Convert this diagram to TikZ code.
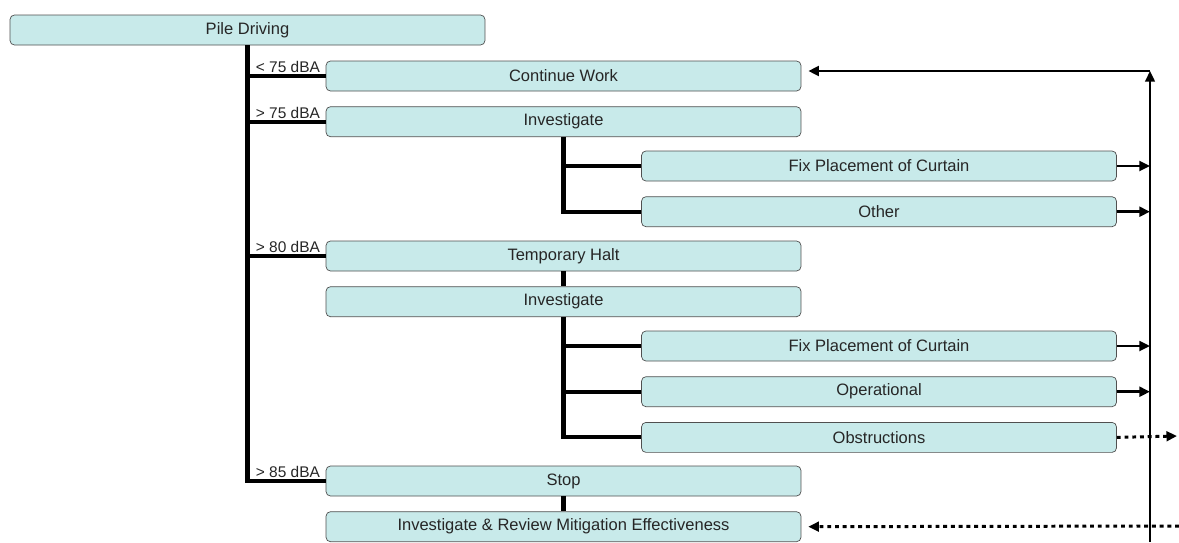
\documentclass[tikz,border=0pt]{standalone}
\usepackage{fontspec}
\setmainfont{Liberation Sans}
\usetikzlibrary{positioning}
\usetikzlibrary{arrows.meta}
\definecolor{boxfill}{HTML}{C8EAEA}
\definecolor{boxline}{HTML}{505050}

\begin{document}
\begin{tikzpicture}[x=0.02cm,y=-0.02cm,node distance=0.3cm,
    stepbox/.style={draw=boxline,fill=boxfill,rounded corners=2.5pt,minimum width=9.5cm,minimum height=0.6cm,inner sep=0pt,font=\fontsize{9.4}{11}\selectfont,text=black!85},
    dbalabel/.style={font=\fontsize{8.8}{10}\selectfont,inner sep=0pt,anchor=south west,text=black!85},
    conn/.style={line width=2.3pt},
    flow/.style={line width=1.5pt,-{Triangle[length=6pt,width=5.5pt]}},
    dotflow/.style={flow,line width=1.7pt,dash pattern=on 2.2pt off 2.2pt}]
  \useasboundingbox (0,0) rectangle (1179,542);

  \node[stepbox] (pile) at (247.5,30) {Pile Driving};

  \node[stepbox] (cont) at (563.5,76) {Continue Work};
  \node[stepbox,below=of cont] (inv1) {Investigate};
  \node[stepbox] (fix1) at (879,166) {Fix Placement of Curtain};
  \node[stepbox,below=of fix1] (other) {Other};

  \node[stepbox] (halt) at (563.5,256) {Temporary Halt};
  \node[stepbox,below=of halt] (inv2) {Investigate};
  \node[stepbox] (fix2) at (879,346) {Fix Placement of Curtain};
  \node[stepbox,below=of fix2] (oper) {Operational};
  \node[stepbox,below=of oper] (obst) {Obstructions};

  \node[stepbox] (stop) at (563.5,481) {Stop};
  \node[stepbox,below=of stop] (review) {Investigate \& Review Mitigation Effectiveness};

  \draw[conn] (pile.south) |- (stop.west);
  \draw[conn] (pile.south |- cont.west) -- (cont.west);
  \draw[conn] (pile.south |- inv1.west) -- (inv1.west);
  \draw[conn] (pile.south |- halt.west) -- (halt.west);

  \node[dbalabel,xshift=0.16cm,yshift=0.06cm] at (pile.south |- cont.west) {< 75 dBA};
  \node[dbalabel,xshift=0.16cm,yshift=0.06cm] at (pile.south |- inv1.west) {> 75 dBA};
  \node[dbalabel,xshift=0.16cm,yshift=0.06cm] at (pile.south |- halt.west) {> 80 dBA};
  \node[dbalabel,xshift=0.16cm,yshift=0.06cm] at (pile.south |- stop.west) {> 85 dBA};

  \draw[conn] (inv1.south) |- (other.west);
  \draw[conn] (inv1.south |- fix1.west) -- (fix1.west);

  \draw[conn] (halt.south) -- (inv2.north);
  \draw[conn] (inv2.south) |- (obst.west);
  \draw[conn] (inv2.south |- fix2.west) -- (fix2.west);
  \draw[conn] (inv2.south |- oper.west) -- (oper.west);

  \draw[conn] (stop.south) -- (review.north);

  \coordinate (railtop) at (1150,71);
  \coordinate (railbot) at (1150,542);
  \draw[flow,line width=1.1pt] (railbot) -- (railtop);
  \draw[flow,shorten >=0.14cm] (railtop) -- (railtop -| cont.east);

  \draw[flow] (fix1.east) -- (fix1.east -| railtop);
  \draw[flow] (other.east) -- (other.east -| railtop);
  \draw[flow] (fix2.east) -- (fix2.east -| railtop);
  \draw[flow] (oper.east) -- (oper.east -| railtop);

  \coordinate (obstend) at (1177,436);
  \draw[dotflow] (obst.east) -- (obstend);
  \coordinate (revstart) at (1179,526);
  \draw[dotflow,shorten >=0.14cm] (revstart) -- (review.east);
\end{tikzpicture}
\end{document}
